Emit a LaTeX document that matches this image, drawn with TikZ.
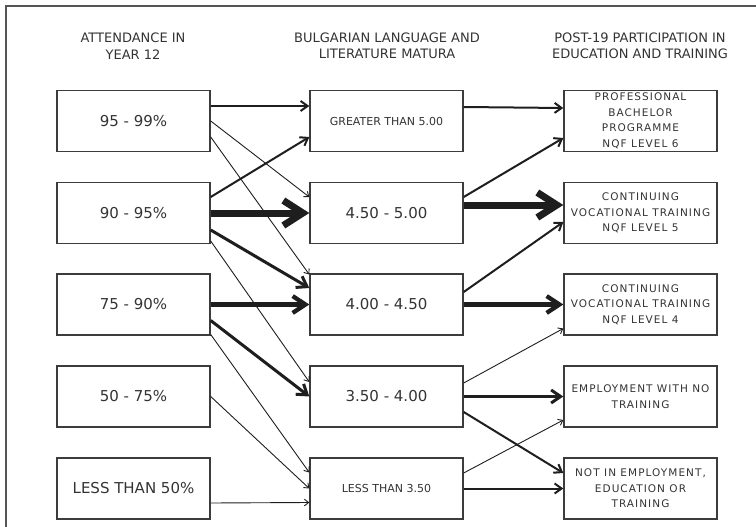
\documentclass[tikz,border=0pt]{standalone}
\usepackage{fontspec}
\setmainfont{DejaVu Sans}
\newfontfamily\spacedfont[LetterSpace=10]{DejaVu Sans}
\usetikzlibrary{arrows.meta}
\definecolor{framegray}{HTML}{555555}
\definecolor{boxgray}{HTML}{3C3C3C}
\definecolor{txtgray}{HTML}{333333}
\definecolor{arrowgray}{HTML}{1E1E1E}

\begin{document}
\begin{tikzpicture}[x=1pt,y=-1pt,
    box/.style={draw=boxgray,line width=1.4pt,minimum width=153pt,minimum height=61pt,inner sep=0pt,text=txtgray},
    big/.style={font=\fontsize{15}{18}\selectfont},
    small/.style={font=\fontsize{11}{13}\selectfont},
    outcome/.style={align=center,font=\spacedfont\fontsize{10.5}{15.5}\selectfont},
    head/.style={align=center,text=txtgray,font=\fontsize{13}{16.5}\selectfont},
    flow/.style={draw=arrowgray,-{Straight Barb[length=2pt 2.5,width=4pt 3]}},
    thinflow/.style={flow,line width=0.9pt},
    midflow/.style={flow,line width=2pt},
    heavyflow/.style={flow,line width=3pt},
    boldflow/.style={flow,line width=4.3pt},
    hugeflow/.style={flow,line width=7pt}]
    \useasboundingbox (0,0) rectangle (756,527);
    \begin{scope}
        \clip (0,0) rectangle (756,527);
        \draw[framegray,line width=2.5pt] (6,6) rectangle (780,550);
    \end{scope}

    % column headings
    \node[head] (H1) at (133,46) {ATTENDANCE IN\\YEAR 12};
    \node[head] (H2) at (387,46) {BULGARIAN LANGUAGE AND\\LITERATURE MATURA};
    \node[head] (H3) at (640,46) {POST-19 PARTICIPATION IN\\EDUCATION AND TRAINING};

    % attendance
    \node[box,big] (L1) at (133.5,121) {95 - 99\%};
    \node[box,big] (L2) at (133.5,213) {90 - 95\%};
    \node[box,big] (L3) at (133.5,304.5) {75 - 90\%};
    \node[box,big] (L4) at (133.5,396.5) {50 - 75\%};
    \node[box,big] (L5) at (133.5,488.5) {LESS THAN 50\%};

    % matura grade
    \node[box,small] (M1) at (386.5,121) {GREATER THAN 5.00};
    \node[box,big] (M2) at (386.5,213) {4.50 - 5.00};
    \node[box,big] (M3) at (386.5,304.5) {4.00 - 4.50};
    \node[box,big] (M4) at (386.5,396.5) {3.50 - 4.00};
    \node[box,small] (M5) at (386.5,488.5) {LESS THAN 3.50};

    % post-19 outcome
    \node[box,outcome] (R1) at (640.5,121) {PROFESSIONAL\\BACHELOR\\PROGRAMME\\NQF LEVEL 6};
    \node[box,outcome] (R2) at (640.5,213) {CONTINUING\\VOCATIONAL TRAINING\\NQF LEVEL 5};
    \node[box,outcome] (R3) at (640.5,304.5) {CONTINUING\\VOCATIONAL TRAINING\\NQF LEVEL 4};
    \node[box,outcome] (R4) at (640.5,396.5) {EMPLOYMENT WITH NO\\TRAINING};
    \node[box,outcome] (R5) at (640.5,488.5) {NOT IN EMPLOYMENT,\\EDUCATION OR\\TRAINING};

    % attendance -> matura
    \draw[midflow] ([yshift=15pt]L1.east) -- ([yshift=15pt]M1.west);
    \draw[thinflow] (L1.east) -- ([yshift=16pt]M2.west);
    \draw[thinflow] ([yshift=-16pt]L1.east) -- ([yshift=30pt]M3.west);
    \draw[midflow] ([yshift=16pt]L2.east) -- ([yshift=-16pt]M1.west);
    \draw[hugeflow] (L2.east) -- (M2.west);
    \draw[heavyflow] ([yshift=-17pt]L2.east) -- ([yshift=16.5pt]M3.west);
    \draw[thinflow] ([yshift=-28pt]L2.east) -- ([yshift=14.5pt]M4.west);
    \draw[boldflow] (L3.east) -- (M3.west);
    \draw[heavyflow] ([yshift=-16pt]L3.east) -- (M4.west);
    \draw[thinflow] ([yshift=-30pt]L3.east) -- ([yshift=16pt]M5.west);
    \draw[thinflow] (L4.east) -- (M5.west);
    \draw[thinflow] ([yshift=-14.5pt]L5.east) -- ([yshift=-14pt]M5.west);

    % matura -> outcome
    \draw[midflow] ([yshift=14pt]M1.east) -- ([yshift=13pt]R1.west);
    \draw[midflow] ([yshift=16pt]M2.east) -- ([yshift=-17pt]R1.west);
    \draw[hugeflow] ([yshift=8pt]M2.east) -- ([yshift=8pt]R2.west);
    \draw[midflow] ([yshift=12.5pt]M3.east) -- ([yshift=-9pt]R2.west);
    \draw[boldflow] (M3.east) -- (R3.west);
    \draw[thinflow] ([yshift=13.5pt]M4.east) -- ([yshift=-24pt]R3.west);
    \draw[heavyflow] (M4.east) -- (R4.west);
    \draw[midflow] ([yshift=-15.5pt]M4.east) -- ([yshift=15.5pt]R5.west);
    \draw[thinflow] ([yshift=15.5pt]M5.east) -- ([yshift=-23.5pt]R4.west);
    \draw[midflow] (M5.east) -- (R5.west);
\end{tikzpicture}
\end{document}
